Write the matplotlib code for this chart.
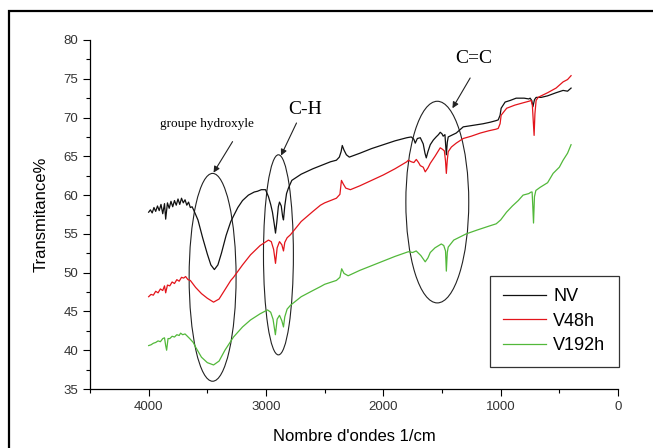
import matplotlib
matplotlib.use("Agg")
import matplotlib.pyplot as plt
from matplotlib.patches import Ellipse, Rectangle
from matplotlib.ticker import MultipleLocator

# ---------------- data ----------------
nv_x = [4000, 3985, 3970, 3955, 3940, 3925, 3910, 3895, 3880, 3865, 3855, 3840, 3825, 3810,
        3795, 3780, 3765, 3750, 3735, 3720, 3705, 3690, 3675, 3660, 3645, 3630, 3617,
        3580, 3540, 3500, 3470, 3440, 3410, 3380, 3340, 3300, 3277, 3240, 3200, 3150,
        3100, 3072, 3040, 3004, 2979, 2960, 2945, 2930, 2919, 2908, 2895, 2885, 2870,
        2858, 2851, 2840, 2825, 2809, 2780, 2700, 2600, 2500, 2450, 2400, 2375, 2360,
        2350, 2335, 2315, 2290, 2200, 2100, 2000, 1900, 1800, 1762, 1740, 1728, 1710,
        1685, 1660, 1645, 1634, 1620, 1600, 1574, 1550, 1530, 1515, 1500, 1490, 1475,
        1463, 1455, 1447, 1420, 1379, 1319, 1234, 1150, 1089, 1040, 1021, 1005, 996,
        962, 920, 868, 800, 760, 749, 735, 725, 712, 698, 655, 600, 528, 468, 430, 400]
nv_y = [57.8, 58.1, 57.7, 58.4, 57.9, 58.6, 58.0, 58.8, 57.6, 58.9, 56.9, 59.0, 58.3, 59.2,
        58.5, 59.3, 58.7, 59.5, 58.8, 59.6, 59.0, 59.4, 58.7, 59.1, 58.4, 58.5, 58.1,
        56.8, 54.5, 52.4, 51.0, 50.4, 51.0, 52.5, 54.8, 56.6, 57.3, 58.4, 59.3, 60.0,
        60.4, 60.5, 60.7, 60.7, 59.8, 58.8, 57.8, 56.3, 55.1, 56.5, 58.5, 59.1, 58.6,
        57.2, 56.8, 58.6, 60.2, 60.9, 61.9, 62.7, 63.4, 64.0, 64.3, 64.5, 64.9, 65.6,
        66.4, 65.8, 65.2, 64.9, 65.4, 66.0, 66.5, 67.0, 67.4, 67.5, 67.2, 66.7, 67.3,
        67.4, 66.6, 65.4, 64.8, 65.6, 66.5, 67.1, 67.5, 67.8, 68.1, 67.9, 67.6, 67.8,
        65.2, 66.8, 67.5, 67.7, 68.0, 68.8, 69.0, 69.2, 69.4, 69.6, 69.7, 70.3, 71.2,
        72.0, 72.2, 72.5, 72.5, 72.4, 72.5, 72.2, 71.4, 72.3, 72.6, 72.6, 72.8, 73.2,
        73.5, 73.4, 73.8]

v48_x = [4000, 3980, 3960, 3940, 3920, 3900, 3880, 3865, 3855, 3840, 3820, 3800, 3780, 3760,
         3740, 3720, 3702, 3685, 3665, 3645, 3620, 3600, 3550, 3500, 3447, 3400, 3350,
         3300, 3277, 3200, 3132, 3050, 2979, 2955, 2935, 2919, 2905, 2885, 2865, 2851,
         2840, 2820, 2791, 2700, 2600, 2536, 2500, 2400, 2370, 2357, 2340, 2320, 2281,
         2200, 2100, 2000, 1900, 1800, 1787, 1762, 1740, 1719, 1700, 1685, 1660, 1643,
         1620, 1600, 1560, 1515, 1495, 1480, 1470, 1463, 1455, 1447, 1420, 1379, 1319,
         1250, 1174, 1100, 1040, 1021, 1005, 996, 949, 880, 809, 760, 740, 730, 722,
         715, 708, 698, 681, 655, 600, 528, 468, 430, 400]
v48_y = [46.9, 47.2, 47.1, 47.6, 47.4, 47.9, 47.7, 48.3, 47.4, 48.4, 48.3, 48.8, 48.6, 49.1,
         48.9, 49.4, 49.3, 49.5, 49.1, 49.0, 48.5, 48.1, 47.3, 46.7, 46.2, 46.6, 47.8,
         49.0, 49.4, 51.0, 52.3, 53.5, 54.2, 54.0, 53.0, 51.2, 53.2, 54.0, 53.6, 52.8,
         53.9, 54.5, 54.9, 56.6, 57.9, 58.7, 59.0, 59.6, 60.1, 61.9, 61.4, 60.9, 60.7,
         61.2, 61.9, 62.6, 63.4, 64.3, 64.5, 64.3, 64.2, 64.6, 64.2, 63.8, 63.6, 63.0,
         63.5, 64.1, 65.0, 66.1, 65.9, 65.7, 64.4, 62.8, 64.5, 65.6, 66.2, 66.7, 67.3,
         67.6, 68.0, 68.3, 68.5, 68.6, 69.2, 70.3, 71.2, 71.6, 71.9, 72.1, 72.2, 71.6,
         69.5, 67.7, 70.5, 72.2, 72.6, 72.8, 73.2, 73.8, 74.6, 74.9, 75.4]

v192_x = [4000, 3980, 3960, 3940, 3920, 3900, 3880, 3865, 3855, 3847, 3835, 3820, 3800, 3780,
          3760, 3740, 3728, 3710, 3690, 3670, 3650, 3620, 3600, 3550, 3500, 3447, 3400,
          3350, 3277, 3200, 3132, 3050, 2987, 2960, 2940, 2920, 2905, 2885, 2865, 2851,
          2840, 2820, 2791, 2700, 2600, 2536, 2500, 2400, 2370, 2355, 2335, 2300, 2200,
          2100, 2000, 1900, 1787, 1750, 1720, 1680, 1643, 1620, 1600, 1560, 1506, 1485,
          1470, 1463, 1455, 1447, 1400, 1294, 1200, 1100, 1038, 1000, 950, 900, 850,
          809, 760, 740, 732, 726, 720, 712, 700, 664, 600, 553, 500, 468, 430, 400]
v192_y = [40.6, 40.7, 40.9, 41.0, 41.2, 41.1, 41.5, 41.6, 40.6, 40.0, 41.5, 41.5, 41.8, 41.7,
          42.0, 41.9, 42.2, 42.0, 42.1, 41.8, 41.5, 41.0, 40.4, 39.1, 38.4, 38.1, 38.6,
          40.0, 41.7, 43.0, 43.9, 44.7, 45.2, 44.9, 44.0, 42.0, 44.0, 44.5, 43.8, 43.0,
          44.3, 45.3, 45.8, 46.9, 47.7, 48.2, 48.5, 49.0, 49.4, 50.5, 49.9, 49.6, 50.3,
          50.9, 51.5, 52.1, 52.7, 52.6, 52.8, 52.2, 51.4, 51.9, 52.6, 53.2, 53.7, 53.5,
          52.8, 50.2, 52.6, 53.3, 54.2, 55.0, 55.5, 56.0, 56.3, 56.8, 57.8, 58.6, 59.3,
          60.0, 60.2, 60.4, 60.4, 58.5, 56.4, 59.8, 60.6, 61.0, 61.6, 62.8, 63.6, 64.5,
          65.4, 66.5]

series_labels = ["NV", "V48h", "V192h"]
series_colors = ["#111111", "#e3141b", "#52b83a"]

x_ticks = [4000, 3000, 2000, 1000, 0]
y_ticks = [35, 40, 45, 50, 55, 60, 65, 70, 75, 80]

# annotation ellipses: (centre x, centre y, width, height)
ell_hydroxyle = (3455, 49.4, 400, 26.8)
ell_ch = (2894, 52.3, 255, 25.8)
ell_cc = (1540, 59.1, 536, 26.0)

# ---------------- figure ----------------
plt.rcParams['font.family'] = ['Liberation Sans', 'DejaVu Sans']
fig = plt.figure(figsize=(6.53, 4.48), dpi=100)
ax = fig.add_axes([90/653, 59/448, 528/653, 349/448])

for xs, ys, lab, col in zip([nv_x, v48_x, v192_x], [nv_y, v48_y, v192_y],
                            series_labels, series_colors):
    ax.plot(xs, ys, color=col, lw=0.9, label=lab)

ax.set_xlim(4500, 0)
ax.set_ylim(35, 80)
ax.set_xticks(x_ticks)
ax.set_yticks(y_ticks)
ax.xaxis.set_minor_locator(MultipleLocator(500))
ax.yaxis.set_minor_locator(MultipleLocator(2.5))
ax.tick_params(which='major', direction='out', length=5, width=0.8,
               labelsize=9.5, labelcolor='#333333')
ax.tick_params(which='minor', direction='out', length=3, width=0.8)
for s in ['top', 'right']:
    ax.spines[s].set_visible(False)
for s in ['left', 'bottom']:
    ax.spines[s].set_linewidth(0.9)

ax.set_xlabel("Nombre d'ondes 1/cm", fontsize=12, labelpad=12)
ax.set_ylabel("Transmitance%", fontsize=12, labelpad=11)

for (cx, cy, w, h) in [ell_hydroxyle, ell_ch, ell_cc]:
    ax.add_patch(Ellipse((cx, cy), w, h, fill=False, edgecolor='#222222', lw=0.8))

arrow = dict(arrowstyle='-|>', color='#222222', lw=0.8, mutation_scale=9,
             shrinkA=0, shrinkB=0)
ax.annotate('', xy=(3447, 62.9), xytext=(3285, 66.9), arrowprops=arrow)
ax.annotate('', xy=(2872, 65.1), xytext=(2740, 69.3), arrowprops=arrow)
ax.annotate('', xy=(1411, 71.2), xytext=(1260, 75.1), arrowprops=arrow)

ax.text(3500, 69.2, 'groupe hydroxyle', family=['Liberation Serif'], fontsize=9.5,
        ha='center', va='center')
ax.text(2670, 71.0, 'C-H', family=['Liberation Serif'], fontsize=14,
        ha='center', va='center')
ax.text(1230, 77.6, 'C=C', family=['Liberation Serif'], fontsize=14,
        ha='center', va='center')

leg = ax.legend(loc='lower left', bbox_to_anchor=(0.758, 0.063, 0.244, 0.261),
                mode='expand', fontsize=13, frameon=True, fancybox=False,
                edgecolor='black', handlelength=2.4, handletextpad=0.4,
                labelspacing=0.42, borderpad=0.7, borderaxespad=0)
leg.get_frame().set_linewidth(0.9)

fig.add_artist(Rectangle((9/653, -0.05), 1.2, 0.05 + (448 - 11)/448,
                         transform=fig.transFigure, fill=False,
                         edgecolor='black', lw=1.6))

fig.savefig('out.png', dpi=100)
